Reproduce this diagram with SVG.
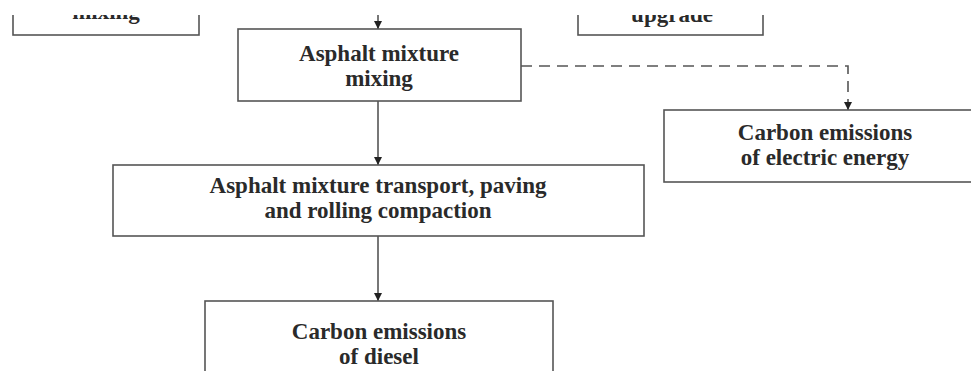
<svg xmlns="http://www.w3.org/2000/svg" width="971" height="371" viewBox="0 0 971 371">
<style>
.box{fill:#fff;stroke:#555;stroke-width:1.6}
.t{font-family:"Liberation Serif","Times New Roman",serif;font-weight:bold;font-size:23px;fill:#2a2a2a;text-anchor:middle}
.c{fill:none;stroke:#555;stroke-width:1.6}
.d{stroke-dasharray:11 7}
</style>
<defs>
<marker id="ah" markerWidth="8" markerHeight="8" viewBox="0 0 8 8" refX="8" refY="4" orient="auto" markerUnits="userSpaceOnUse">
<path d="M0,0 L8,4 L0,8 Z" fill="#222"/>
</marker>
<clipPath id="view"><rect x="0" y="15" width="971" height="356"/></clipPath>
</defs>
<rect width="971" height="371" fill="#fff"/>
<g clip-path="url(#view)">
<g id="connectors">
<line class="c" x1="378" y1="0" x2="378" y2="29" marker-end="url(#ah)"/>
<line class="c" x1="378" y1="101" x2="378" y2="165" marker-end="url(#ah)"/>
<line class="c" x1="378" y1="236" x2="378" y2="301" marker-end="url(#ah)"/>
<path class="c d" d="M521,66 H848 V110" marker-end="url(#ah)"/>
</g>
<g id="node-mixing-top">
<rect class="box" x="13" y="-40" width="186" height="75"/>
<text class="t" x="106" y="19">mixing</text>
</g>
<g id="node-upgrade">
<rect class="box" x="578" y="-40" width="185" height="75"/>
<text class="t" x="672" y="22">upgrade</text>
</g>
<g id="node-asphalt-mixing">
<rect class="box" x="238" y="29" width="283" height="72"/>
<text class="t" x="379" y="61">Asphalt mixture</text>
<text class="t" x="379" y="86">mixing</text>
</g>
<g id="node-electric">
<rect class="box" x="664" y="110" width="330" height="72"/>
<text class="t" x="825" y="140">Carbon emissions</text>
<text class="t" x="825" y="165">of electric energy</text>
</g>
<g id="node-transport">
<rect class="box" x="113" y="165" width="531" height="71"/>
<text class="t" x="378" y="193">Asphalt mixture transport, paving</text>
<text class="t" x="378" y="218">and rolling compaction</text>
</g>
<g id="node-diesel">
<rect class="box" x="205" y="301" width="348" height="90"/>
<text class="t" x="379" y="339">Carbon emissions</text>
<text class="t" x="379" y="364">of diesel</text>
</g>
</g>
</svg>
